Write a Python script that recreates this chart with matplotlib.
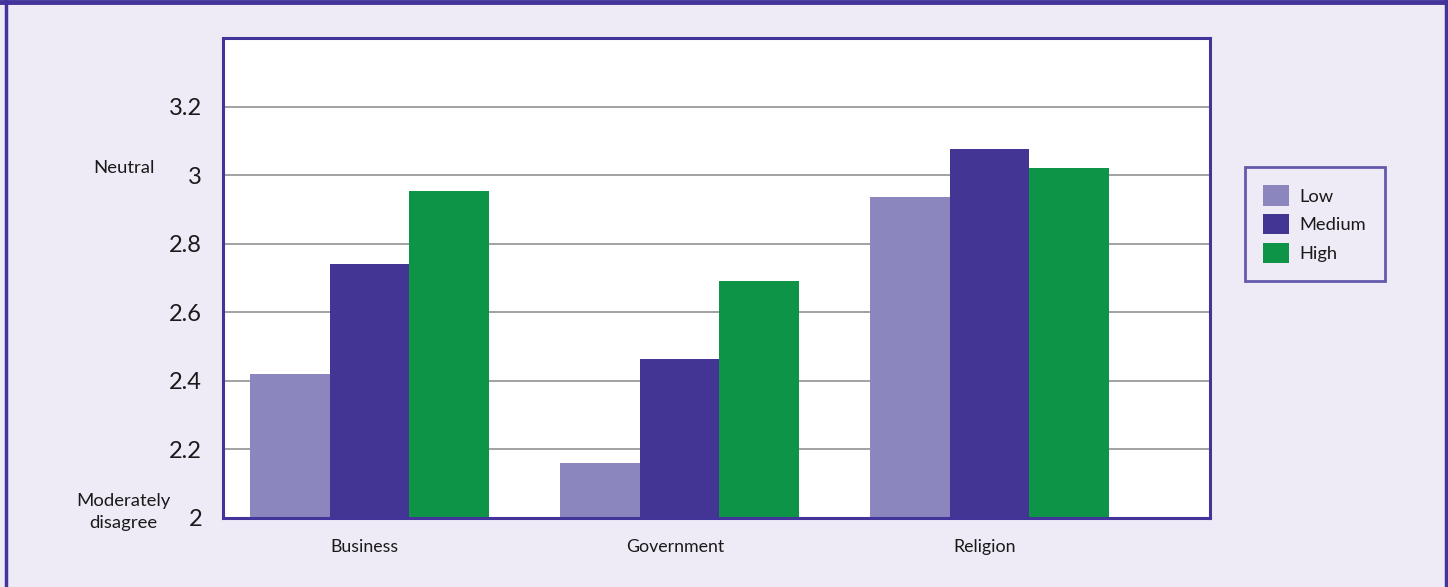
import matplotlib
matplotlib.use("Agg")
import matplotlib.pyplot as plt
from matplotlib.lines import Line2D
import numpy as np

plt.rcParams['font.family'] = ['Lato', 'DejaVu Sans']

categories = ["Business", "Government", "Religion"]
series_names = ["Low", "Medium", "High"]
low = [2.42, 2.16, 2.935]
medium = [2.74, 2.465, 3.075]
high = [2.955, 2.69, 3.02]
ytick_values = [2.0, 2.2, 2.4, 2.6, 2.8, 3.0, 3.2]
ytick_labels = ["2", "2.2", "2.4", "2.6", "2.8", "3", "3.2"]

colors = ["#8B87BE", "#423593", "#0E9447"]
bg = "#EEEBF6"
purple = "#42349A"

fig = plt.figure(figsize=(14.48, 5.87), dpi=100, facecolor=bg)
ax = fig.add_axes([223/1448, 1-518/587, (1210-223)/1448, (518-38)/587])
ax.set_facecolor("white")

x = np.arange(len(categories))
w = 0.2565
for i, (vals, name) in enumerate(zip([low, medium, high], series_names)):
    ax.bar(x + (i-1)*w, np.array(vals) - 2.0, bottom=2.0, width=w,
           color=colors[i], label=name, zorder=3, linewidth=0)

ax.set_ylim(2.0, 3.4)
ax.set_xlim(-0.4726, 2.711)
ax.set_yticks(ytick_values)
ax.set_yticklabels(ytick_labels, fontsize=17, color="#1a1a1a")
ax.set_xticks(x - 0.015)
ax.set_xticklabels(categories, fontsize=12.8, color="#1a1a1a")
ax.tick_params(axis='y', length=0, pad=15)
ax.tick_params(axis='x', length=0, pad=15)
ax.yaxis.grid(True, color="#9a9a9a", linewidth=1.3, zorder=0)
ax.set_axisbelow(True)
for s in ax.spines.values():
    s.set_color(purple)
    s.set_linewidth(2.2)
    s.set_zorder(5)

# scale anchors on the left
fig.text(124/1448, 1-168/587, "Neutral", ha="center", va="center", fontsize=13.3, color="#1a1a1a")
fig.text(123/1448, 1-512/587, "Moderately\ndisagree", ha="center", va="center", fontsize=13.3,
         color="#1a1a1a", linespacing=1.5)

leg = fig.legend(loc="upper left", bbox_to_anchor=(1245/1448, 1-167/587), borderaxespad=0,
                 fontsize=13.2, frameon=True, fancybox=False, facecolor=bg, edgecolor=purple,
                 handlelength=1.38, handleheight=1.33, labelspacing=0.45, borderpad=1.0,
                 handletextpad=0.6)
leg.get_frame().set_linewidth(2)
for t in leg.get_texts():
    t.set_color("#1a1a1a")

# outer frame around the figure
fig.add_artist(Line2D([5.5/1448, 5.5/1448], [0, 1], transform=fig.transFigure, color=purple, linewidth=2.5))
fig.add_artist(Line2D([1445.5/1448, 1445.5/1448], [0, 1], transform=fig.transFigure, color=purple, linewidth=2.5))
fig.add_artist(Line2D([0, 1], [1-2/587, 1-2/587], transform=fig.transFigure, color=purple, linewidth=3.5))

fig.savefig("out.png", dpi=100, facecolor=bg)
